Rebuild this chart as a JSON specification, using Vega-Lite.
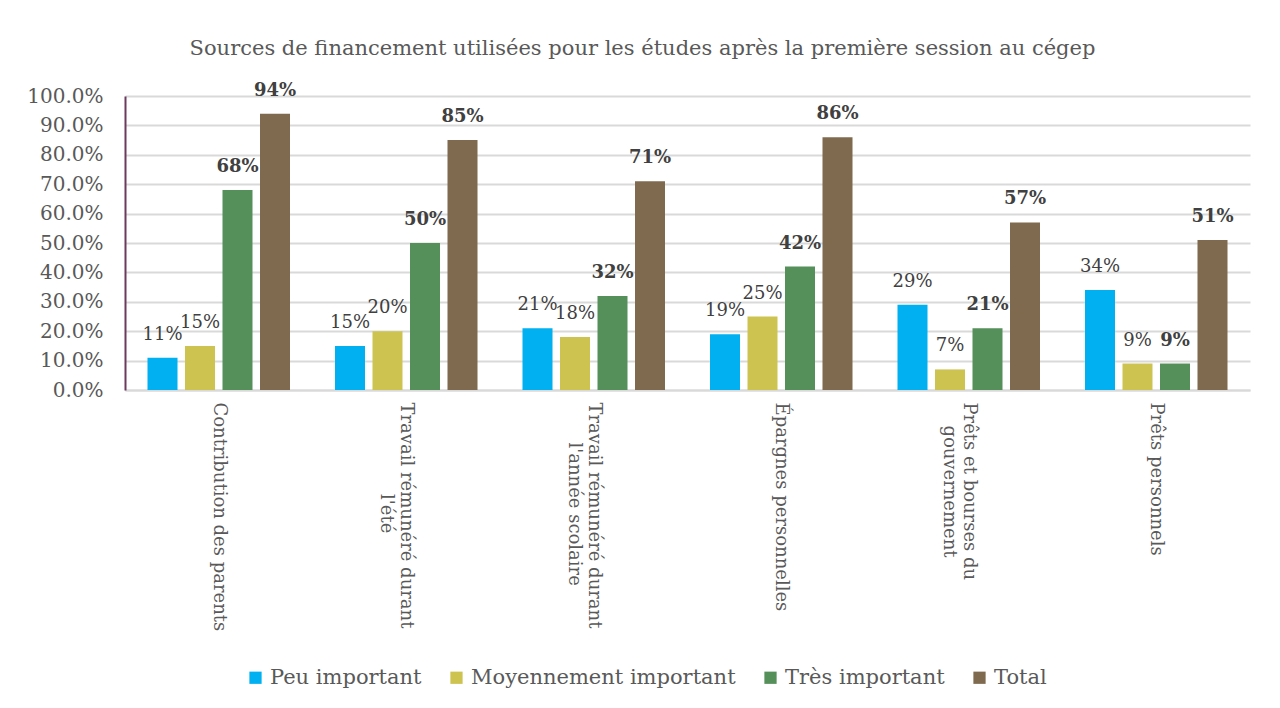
{
  "$schema": "https://vega.github.io/schema/vega-lite/v6.json",
  "width": 1125,
  "height": 294,
  "autosize": {"type": "none"},
  "padding": {"left": 125, "top": 96, "right": 30, "bottom": 318},
  "background": "white",
  "title": {
    "text": "Sources de financement utilisées pour les études après la première session au cégep",
    "font": "DejaVu Serif",
    "fontSize": 21,
    "fontWeight": "normal",
    "color": "#595959",
    "anchor": "middle",
    "dx": -45,
    "offset": 23
  },
  "data": {
    "values": [
      {"category": "Contribution des parents", "series": "Peu important", "value": 0.11},
      {"category": "Contribution des parents", "series": "Moyennement important", "value": 0.15},
      {"category": "Contribution des parents", "series": "Très important", "value": 0.68},
      {"category": "Contribution des parents", "series": "Total", "value": 0.94},
      {"category": "Travail rémunéré durant l'été", "series": "Peu important", "value": 0.15},
      {"category": "Travail rémunéré durant l'été", "series": "Moyennement important", "value": 0.20},
      {"category": "Travail rémunéré durant l'été", "series": "Très important", "value": 0.50},
      {"category": "Travail rémunéré durant l'été", "series": "Total", "value": 0.85},
      {"category": "Travail rémunéré durant l'année scolaire", "series": "Peu important", "value": 0.21},
      {"category": "Travail rémunéré durant l'année scolaire", "series": "Moyennement important", "value": 0.18},
      {"category": "Travail rémunéré durant l'année scolaire", "series": "Très important", "value": 0.32},
      {"category": "Travail rémunéré durant l'année scolaire", "series": "Total", "value": 0.71},
      {"category": "Épargnes personnelles", "series": "Peu important", "value": 0.19},
      {"category": "Épargnes personnelles", "series": "Moyennement important", "value": 0.25},
      {"category": "Épargnes personnelles", "series": "Très important", "value": 0.42},
      {"category": "Épargnes personnelles", "series": "Total", "value": 0.86},
      {"category": "Prêts et bourses du gouvernement", "series": "Peu important", "value": 0.29},
      {"category": "Prêts et bourses du gouvernement", "series": "Moyennement important", "value": 0.07},
      {"category": "Prêts et bourses du gouvernement", "series": "Très important", "value": 0.21},
      {"category": "Prêts et bourses du gouvernement", "series": "Total", "value": 0.57},
      {"category": "Prêts personnels", "series": "Peu important", "value": 0.34},
      {"category": "Prêts personnels", "series": "Moyennement important", "value": 0.09},
      {"category": "Prêts personnels", "series": "Très important", "value": 0.09},
      {"category": "Prêts personnels", "series": "Total", "value": 0.51}
    ]
  },
  "encoding": {
    "x": {
      "field": "category",
      "type": "nominal",
      "sort": null,
      "scale": {"paddingInner": 0.24, "paddingOuter": 0.12},
      "axis": {
        "title": null,
        "labelAngle": 90,
        "labelAlign": "left",
        "labelBaseline": "middle",
        "labelFont": "DejaVu Serif",
        "labelFontSize": 18,
        "labelColor": "#595959",
        "labelPadding": 12,
        "labelLimit": 400,
        "labelLineHeight": 20,
        "ticks": false,
        "domainColor": "#D9D9D9",
        "domainWidth": 2,
        "labelExpr": "datum.value == \"Travail rémunéré durant l'été\" ? ['Travail rémunéré durant', \"\u200b\u00a0\u00a0\u00a0\u00a0\u00a0\u00a0\u00a0\u00a0\u00a0\u00a0\u00a0\u00a0\u00a0\u00a0\u00a0\u00a0l'été\"] : datum.value == \"Travail rémunéré durant l'année scolaire\" ? ['Travail rémunéré durant', \"\u200b\u00a0\u00a0\u00a0\u00a0\u00a0\u00a0\u00a0l'année scolaire\"] : datum.value == 'Prêts et bourses du gouvernement' ? ['Prêts et bourses du', '\u200b\u00a0\u00a0\u00a0\u00a0gouvernement'] : datum.value"
      }
    },
    "xOffset": {
      "field": "series",
      "type": "nominal",
      "sort": ["Peu important", "Moyennement important", "Très important", "Total"],
      "scale": {"paddingInner": 0.2}
    },
    "y": {
      "field": "value",
      "type": "quantitative",
      "scale": {"domain": [0, 1], "nice": false},
      "axis": {
        "title": null,
        "values": [0, 0.1, 0.2, 0.3, 0.4, 0.5, 0.6, 0.7, 0.8, 0.9, 1.0],
        "format": ".1%",
        "labelFont": "DejaVu Serif",
        "labelFontSize": 20,
        "labelColor": "#595959",
        "labelPadding": 22,
        "ticks": false,
        "domainColor": "#6B3A5E",
        "domainWidth": 2,
        "grid": true,
        "gridColor": "#D9D9D9",
        "gridWidth": 2
      }
    }
  },
  "layer": [
    {
      "mark": {"type": "bar"},
      "encoding": {
        "color": {
          "field": "series",
          "type": "nominal",
          "sort": ["Peu important", "Moyennement important", "Très important", "Total"],
          "scale": {
            "domain": ["Peu important", "Moyennement important", "Très important", "Total"],
            "range": ["#00B0F0", "#CDC350", "#558F5A", "#7F6A4F"]
          },
          "legend": {
            "title": null,
            "orient": "none",
            "direction": "horizontal",
            "legendX": 120,
            "legendY": 571,
            "symbolType": "square",
            "symbolSize": 150,
            "symbolStrokeWidth": 0,
            "labelFont": "DejaVu Serif",
            "labelFontSize": 21,
            "labelColor": "#595959",
            "labelOffset": 4,
            "columnPadding": 24,
            "labelLimit": 400
          }
        }
      }
    },
    {
      "transform": [{"filter": "datum.series == 'Peu important' || datum.series == 'Moyennement important'"}],
      "mark": {
        "type": "text",
        "baseline": "middle",
        "dy": -23,
        "font": "DejaVu Serif",
        "fontSize": 18,
        "fontWeight": "normal",
        "color": "#404040"
      },
      "encoding": {
        "text": {"field": "value", "type": "quantitative", "format": ".0%"}
      }
    },
    {
      "transform": [{"filter": "datum.series == 'Très important' || datum.series == 'Total'"}],
      "mark": {
        "type": "text",
        "baseline": "middle",
        "dy": -23,
        "font": "DejaVu Serif",
        "fontSize": 18,
        "fontWeight": "bold",
        "color": "#404040"
      },
      "encoding": {
        "text": {"field": "value", "type": "quantitative", "format": ".0%"}
      }
    }
  ],
  "config": {
    "font": "DejaVu Serif",
    "view": {"stroke": null}
  }
}
